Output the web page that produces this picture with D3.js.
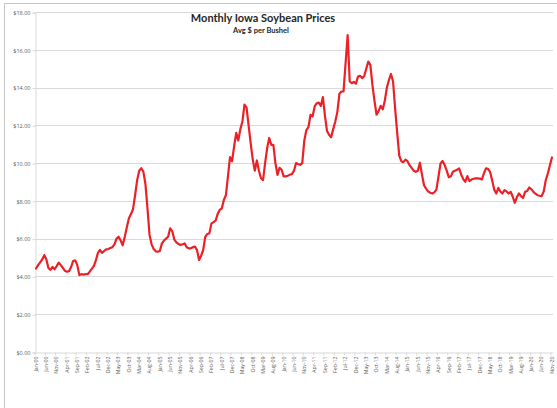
<!DOCTYPE html>
<html>
<head>
<meta charset="utf-8">
<script src="https://cdn.jsdelivr.net/npm/d3@7"></script>
<style>
  body { margin: 0; background: #fff; }
  svg { display: block; }
</style>
</head>
<body>
<script>
// month names used to build the category labels (Jan-00 ... Nov-20)
var monthNames = ["Jan","Feb","Mar","Apr","May","Jun","Jul","Aug","Sep","Oct","Nov","Dec"];
var firstYear = 2000, lastYear = 2020, lastMonth = 10;

// average Iowa soybean price, $ per bushel, one value per month
var prices = [
  4.42,4.60,4.75,4.90,5.13,4.90,4.45,4.35,4.50,4.38,4.55,4.73,
  4.60,4.45,4.30,4.25,4.28,4.50,4.82,4.85,4.60,4.07,4.12,4.10,
  4.12,4.12,4.25,4.40,4.55,4.85,5.25,5.40,5.25,5.35,5.43,5.45,
  5.50,5.55,5.70,6.00,6.10,5.90,5.65,6.10,6.60,7.08,7.30,7.56,
  8.30,9.10,9.60,9.73,9.55,8.90,7.60,6.20,5.70,5.45,5.33,5.31,
  5.35,5.75,5.90,6.00,6.10,6.55,6.40,5.95,5.80,5.72,5.66,5.70,
  5.75,5.55,5.49,5.49,5.55,5.58,5.40,4.87,5.10,5.40,6.10,6.25,
  6.28,6.81,6.87,6.95,7.30,7.52,7.60,8.05,8.30,9.30,10.32,10.10,
  10.90,11.60,11.20,11.80,12.20,13.10,12.95,12.00,11.06,10.20,9.60,10.14,
  9.60,9.20,9.10,10.00,10.80,11.33,10.97,10.97,10.00,9.38,9.75,9.65,
  9.30,9.30,9.33,9.38,9.42,9.60,10.00,9.95,9.91,10.00,11.20,11.75,
  11.90,12.56,12.47,13.00,13.17,13.20,13.03,13.49,12.50,11.70,11.50,11.37,
  11.80,12.20,12.70,13.67,13.79,13.79,15.30,16.78,14.32,14.23,14.30,14.20,
  14.58,14.62,14.50,14.60,15.00,15.37,15.20,14.14,13.30,12.56,12.75,13.03,
  12.85,13.30,14.00,14.40,14.72,14.32,12.90,11.60,10.40,10.10,10.05,10.18,
  10.10,9.89,9.75,9.60,9.54,9.60,10.02,9.40,8.83,8.65,8.50,8.43,
  8.39,8.45,8.60,9.28,9.98,10.11,9.90,9.60,9.25,9.30,9.54,9.60,
  9.65,9.72,9.40,9.15,9.01,9.31,9.05,9.13,9.17,9.19,9.19,9.18,
  9.13,9.45,9.72,9.70,9.54,9.10,8.60,8.39,8.69,8.50,8.39,8.57,
  8.50,8.39,8.48,8.22,7.90,8.20,8.39,8.25,8.16,8.48,8.53,8.71,
  8.62,8.48,8.38,8.30,8.27,8.25,8.50,9.10,9.45,9.89,10.30
];

var yTicks = [0,2,4,6,8,10,12,14,16,18];
var labelEvery = 5;

var months = [];
for (var yr = firstYear; yr <= lastYear; yr++) {
  for (var m = 0; m < 12; m++) {
    if (yr == lastYear && m > lastMonth) break;
    months.push(monthNames[m] + "-" + String(yr).slice(2));
  }
}
var data = months.map(function(d,i) { return {month: d, price: prices[i]}; });

var W = 557, H = 408;
var plotLeft = 35, plotRight = 553, plotTop = 12, plotBottom = 352;

var svg = d3.select("body").append("svg").attr("width",W).attr("height",H);

// chart frame
svg.append("rect")
    .attr("x",4.5).attr("y",3.5).attr("width",W+10).attr("height",H+10)
    .attr("fill","none").attr("stroke","#c6c6c6").attr("stroke-width",1);

var x = d3.scaleBand().domain(months).range([plotLeft,plotRight]);
var yScale = d3.scaleLinear().domain([0,18]).range([plotBottom,plotTop]);

// gridlines
svg.selectAll("line.grid").data(yTicks.slice(1)).enter().append("line")
    .attr("class","grid")
    .attr("x1",plotLeft).attr("x2",plotRight)
    .attr("y1",function(d) { return Math.round(yScale(d))+0.5; })
    .attr("y2",function(d) { return Math.round(yScale(d))+0.5; })
    .attr("stroke","#d9d9d9").attr("stroke-width",1);

// y axis
var yAxis = d3.axisLeft(yScale).tickValues(yTicks)
    .tickFormat(function(d) { return "$" + d3.format(".2f")(d); })
    .tickSize(3).tickPadding(2);
var gy = svg.append("g").attr("transform","translate(" + (plotLeft+0.5) + ",0.5)").call(yAxis);
gy.select(".domain").attr("stroke","#d9d9d9");
gy.selectAll(".tick line").attr("stroke","#d9d9d9");
gy.selectAll("text").attr("fill","#595959")
    .style("font-family","'Open Sans', sans-serif").style("font-size","5.5px");

// x axis
var labelled = months.filter(function(d,i) { return i % labelEvery == 0; });
var xAxis = d3.axisBottom(x).tickValues(labelled).tickSize(0).tickPadding(0);
var gx = svg.append("g").attr("transform","translate(0," + (plotBottom+0.5) + ")").call(xAxis);
gx.select(".domain").attr("stroke","#d9d9d9");
gx.selectAll(".tick text")
    .attr("transform","rotate(-90)")
    .attr("x",-4).attr("y",0).attr("dy","0.35em")
    .style("text-anchor","end")
    .attr("fill","#595959")
    .style("font-family","'Open Sans', sans-serif").style("font-size","5.2px");
gx.selectAll(".tick").append("line")
    .attr("x1",-x.bandwidth()/2).attr("x2",-x.bandwidth()/2)
    .attr("y1",0).attr("y2",3)
    .attr("stroke","#d9d9d9");

// price line
var line = d3.line()
    .x(function(d) { return x(d.month) + x.bandwidth()/2; })
    .y(function(d) { return yScale(d.price); });

svg.append("path").datum(data)
    .attr("d",line)
    .attr("fill","none")
    .attr("stroke","#ec2027")
    .attr("stroke-width",2.2)
    .attr("stroke-linejoin","round")
    .attr("stroke-linecap","round");

// titles
svg.append("text").text("Monthly Iowa Soybean Prices")
    .attr("x",263).attr("y",22)
    .attr("text-anchor","middle")
    .attr("fill","#262626")
    .style("font-family","Lato, sans-serif").style("font-weight","bold").style("font-size","11px");

svg.append("text").text("Avg $ per Bushel")
    .attr("x",261).attr("y",33)
    .attr("text-anchor","middle")
    .attr("fill","#262626")
    .style("font-family","Lato, sans-serif").style("font-weight","bold").style("font-size","7.5px");
</script>
</body>
</html>
